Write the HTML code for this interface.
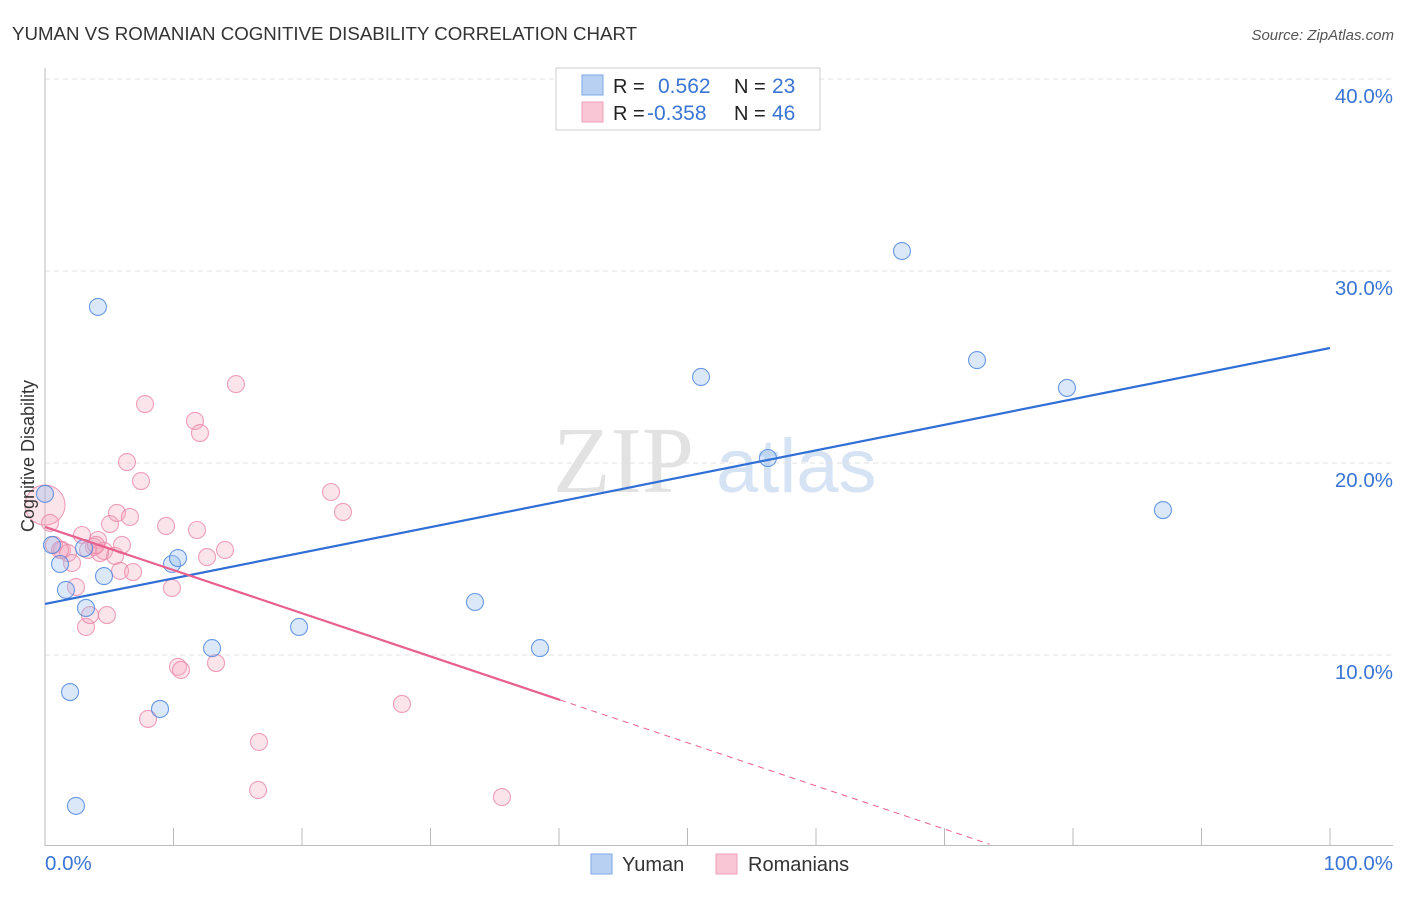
<!DOCTYPE html>
<html><head><meta charset="utf-8"><style>
body{margin:0;background:#fff;font-family:"Liberation Sans",sans-serif;}
</style></head><body>
<svg id="chart" width="1406" height="892" font-family="Liberation Sans, sans-serif">
<text x="12" y="40" font-size="18.7" fill="#333">YUMAN VS ROMANIAN COGNITIVE DISABILITY CORRELATION CHART</text>
<text x="1394" y="40" font-size="15" fill="#555" font-style="italic" text-anchor="end">Source: ZipAtlas.com</text>
<text x="553" y="492" font-size="94" fill="#e2e2e2" style="font-family:'Liberation Serif',serif">ZIP</text>
<text x="716" y="492" font-size="76" fill="#d6e3f5">atlas</text>
<g id="grid"></g>
<g id="axes"></g>
<g id="marks"></g>
<text transform="translate(34,456) rotate(-90)" font-size="18" fill="#333" text-anchor="middle">Cognitive Disability</text>
<text x="45" y="870" font-size="20.5" fill="#3a75d4">0.0%</text>
<text x="1393" y="870" font-size="20.5" fill="#3a75d4" text-anchor="end">100.0%</text>
<g>
<rect x="556" y="68" width="264" height="62" fill="#fff" stroke="#ccc"/>
<rect x="582" y="75" width="21" height="20" fill="#b8d1f3" stroke="#7ea6e6"/>
<rect x="582" y="102" width="21" height="20" fill="#f9c6d5" stroke="#ee9fb9"/>
<text x="613" y="93" font-size="20" fill="#222">R =</text>
<text x="658" y="93" font-size="21" fill="#3a75d4">0.562</text>
<text x="734" y="93" font-size="20" fill="#222">N =</text>
<text x="772" y="93" font-size="21" fill="#3a75d4">23</text>
<text x="613" y="120" font-size="20" fill="#222">R =</text>
<text x="647" y="120" font-size="21" fill="#3a75d4">-0.358</text>
<text x="734" y="120" font-size="20" fill="#222">N =</text>
<text x="772" y="120" font-size="21" fill="#3a75d4">46</text>
</g>
<g>
<rect x="591" y="854" width="21" height="20" fill="#b8d1f3" stroke="#7ea6e6"/>
<text x="622" y="871" font-size="20" fill="#333">Yuman</text>
<rect x="716" y="854" width="21" height="20" fill="#f9c6d5" stroke="#ee9fb9"/>
<text x="748" y="871" font-size="20" fill="#333">Romanians</text>
</g>
</svg>
<script>
const yTicks=[10,20,30,40];
const yTickLabels=["10.0%","20.0%","30.0%","40.0%"];
const xTicks=[0,10,20,30,40,50,60,70,80,90,100];
const yumanX=[0,0.54,1.17,1.63,4.12,3.04,3.19,4.59,1.95,2.41,8.95,9.88,10.35,13.0,19.77,33.46,38.52,51.05,56.26,66.69,72.53,79.53,87.0];
const yumanY=[18.39,15.73,14.74,13.39,28.13,15.57,12.45,14.11,8.07,2.14,7.19,14.74,15.05,10.36,11.46,12.76,10.36,24.48,20.26,31.04,25.36,23.91,17.55];
const romX=[0.39,0.7,1.32,1.79,2.1,2.41,2.88,3.19,3.5,3.81,4.12,4.59,4.82,5.06,5.45,5.6,5.84,5.99,6.38,6.61,6.85,7.47,7.78,8.02,9.42,9.88,10.35,10.58,11.67,11.83,12.06,12.61,13.31,14.01,14.86,16.58,16.65,22.26,23.19,27.78,35.56,3.35,4.28,1.17,3.97];
const romY=[16.88,15.73,15.47,15.31,14.79,13.54,16.25,11.46,12.08,15.63,15.99,15.42,12.08,16.82,15.16,17.4,14.38,15.73,20.05,17.19,14.32,19.06,23.07,6.67,16.72,13.49,9.38,9.22,22.19,16.51,21.56,15.1,9.58,15.47,24.11,2.97,5.47,18.49,17.45,7.45,2.6,15.47,15.31,15.47,15.73];
const romBigX=[0], romBigY=[17.81];
const yumanTrend=[12.66,0.1333];
const romTrend=[16.67,-0.2248];
const romSolidEnd=40.08, romDashEnd=73.5;

const NS="http://www.w3.org/2000/svg";
const X=v=>45+v*12.85, Y=v=>847-v*19.2;
function mk(p,t,a){const e=document.createElementNS(NS,t);for(const k in a)e.setAttribute(k,a[k]);p.appendChild(e);return e;}
const gridG=document.getElementById('grid'),axesG=document.getElementById('axes'),marksG=document.getElementById('marks');
yTicks.forEach((t,i)=>{
 const l=mk(gridG,'line',{x1:45,x2:1393,y1:Y(t),y2:Y(t),stroke:'#e2e2e2','stroke-dasharray':'5,4'});
 
 
 const tx=mk(gridG,'text',{x:1393,y:Y(t)+24,'font-size':20.5,fill:'#3a75d4','text-anchor':'end'});
 tx.textContent=yTickLabels[i];
 
 
});
let a=mk(axesG,'line',{x1:45,x2:45,y1:68,y2:846,stroke:'#bbb'});


a=mk(axesG,'line',{x1:45,x2:1393,y1:845.5,y2:845.5,stroke:'#bbb'});


xTicks.forEach(t=>{
 const l=mk(axesG,'line',{x1:X(t),x2:X(t),y1:828,y2:846,stroke:'#bbb'});
 
 
});
function dot(x,y,r,fill,stroke,name){
 const c=mk(marksG,'circle',{cx:X(x),cy:Y(y),r:r,fill:fill,stroke:stroke,'stroke-width':1.1});
 
 
}
romBigX.forEach((x,i)=>dot(x,romBigY[i],20,'rgba(245,165,190,0.3)','rgba(232,130,165,0.75)','romanian-point'));
romX.forEach((x,i)=>dot(x,romY[i],8.5,'rgba(245,165,190,0.3)','rgba(232,130,165,0.75)','romanian-point'));
yumanX.forEach((x,i)=>dot(x,yumanY[i],8.5,'rgba(150,190,240,0.35)','rgba(70,130,220,0.8)','yuman-point'));
let t=mk(marksG,'line',{x1:X(0),y1:Y(yumanTrend[0]),x2:X(100),y2:Y(yumanTrend[0]+yumanTrend[1]*100),stroke:'#2f6fd6','stroke-width':2.2});


t=mk(marksG,'line',{x1:X(0),y1:Y(romTrend[0]),x2:X(romSolidEnd),y2:Y(romTrend[0]+romTrend[1]*romSolidEnd),stroke:'#e8608e','stroke-width':2.2});


t=mk(marksG,'line',{x1:X(romSolidEnd),y1:Y(romTrend[0]+romTrend[1]*romSolidEnd),x2:X(romDashEnd),y2:Y(romTrend[0]+romTrend[1]*romDashEnd),stroke:'#e8608e','stroke-width':1,'stroke-dasharray':'6,5'});


</script>
</body></html>
